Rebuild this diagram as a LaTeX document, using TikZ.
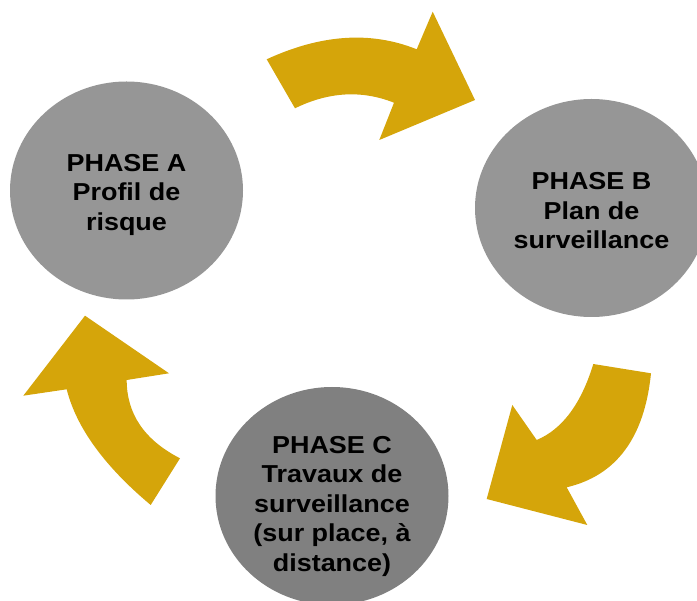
\documentclass[tikz,border=0pt]{standalone}
\usepackage{fontspec}
\setmainfont{Liberation Sans}[FakeStretch=1.1]
\usetikzlibrary{shapes.geometric}
\definecolor{moutarde}{RGB}{213,165,10}
\definecolor{grisclair}{RGB}{150,150,150}
\definecolor{grisfonce}{RGB}{128,128,128}

\begin{document}
\begin{tikzpicture}[x=1pt,y=-1pt,
    phase/.style={ellipse, fill=grisclair, minimum width=233pt, minimum height=218pt, inner sep=0pt},
    texte/.style={align=center, inner sep=0pt, font=\bfseries\fontsize{24.5}{29.5}\selectfont},
    fleche/.style={fill=moutarde}]
        \useasboundingbox (0,0) rectangle (697,601);
        \clip (0,0) rectangle (697,601);
        \node[phase] (pa) at (126.5,190.5) {};
        \node[phase] (pb) at (591.5,208) {};
        \node[phase, fill=grisfonce] (pc) at (332,496) {};
        \node[texte] (ta) at ([yshift=-4pt]pa.center) {PHASE A\\Profil de\\risque};
        \node[texte] (tb) at ([yshift=-3pt]pb.center) {PHASE B\\Plan de\\surveillance};
        \node[texte] (tc) at ([yshift=-10pt]pc.center) {PHASE C\\Travaux de\\surveillance\\(sur place, à\\distance)};
        % A vers B
        \fill[fleche] (266.7,59.3) .. controls (321.1,34.2) and (371.1,30.9) .. (416.7,49.3) -- (432.7,11.7) -- (475,100) -- (379.3,140) -- (394,102.7) .. controls (361.7,89.9) and (328.7,91.8) .. (295,108.3) -- cycle;
        % B vers C
        \fill[fleche] (593.3,364) -- (651,373.3) .. controls (644.5,437.6) and (616.4,475.6) .. (566.7,487.3) -- (587.3,525) -- (486.7,499) -- (512.3,405) -- (536.7,440) .. controls (562.2,429.3) and (581.1,404) .. (593.3,364) -- cycle;
        % C vers A
        \fill[fleche] (180,458.3) -- (150.7,505) .. controls (104.4,466.2) and (76.4,427.7) .. (66.7,389.3) -- (23.3,395.7) -- (85,315.7) -- (169,373.3) -- (126.7,380) .. controls (126.7,413.9) and (144.4,440) .. (180,458.3) -- cycle;
    \end{tikzpicture}
\end{document}
